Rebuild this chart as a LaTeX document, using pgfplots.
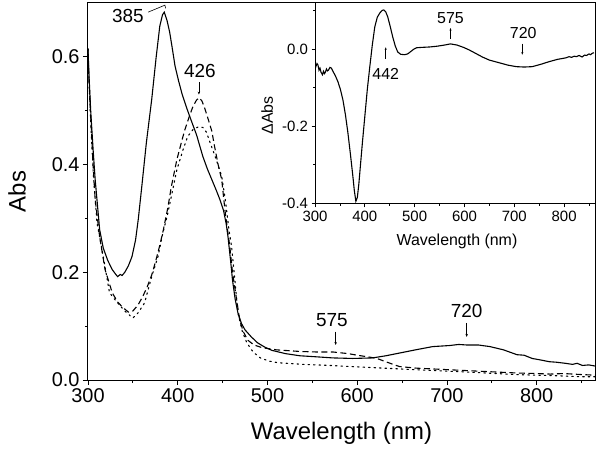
\documentclass[border=0pt]{standalone}
\usepackage{fontspec}
\setmainfont{Liberation Sans}
\usepackage{pgfplots}
\pgfplotsset{compat=1.18}
\usetikzlibrary{arrows.meta}

\begin{document}
\begin{tikzpicture}
\path[use as bounding box] (-88bp,-76bp) rectangle (512bp,380bp);
\begin{axis}[
  at={(0,0)}, anchor=south west,
  scale only axis, width=507bp, height=377bp,
  xmin=300, xmax=865, ymin=0, ymax=0.70,
  xtick={300,400,...,800}, minor xtick={350,450,...,850},
  ytick={0,0.2,0.4,0.6}, minor ytick={0.1,0.3,0.5},
  xtick pos=left, ytick pos=left,
  tick align=outside,
  major tick length=5bp, minor tick length=3bp,
  tick style={black, line width=0.8bp},
  axis line style={line width=1bp},
  /pgf/number format/assume math mode=true,
  yticklabel style={/pgf/number format/.cd,fixed,fixed zerofill,precision=1},
  xticklabel style={/pgf/number format/1000 sep={}},
  ticklabel style={font=\fontsize{20}{24}\selectfont},
  xlabel={Wavelength (nm)}, ylabel={Abs},
  label style={font=\fontsize{24}{28}\selectfont},
  x label style={at={(axis description cs:0.5,-0.1406)}, anchor=center},
  y label style={at={(axis description cs:-0.140,0.5)}, anchor=center},
  every axis plot/.append style={line width=1.1bp, black},
]
% solid
\addplot[solid] coordinates {
(300,0.615)(301,0.57)(303,0.50)(306,0.42)(308,0.372)(313,0.279)(317,0.245)(322,0.222)(327,0.205)(331,0.196)(333,0.192)(336,0.196)(338,0.194)(341,0.200)(345,0.212)(349,0.229)(353,0.26)(356,0.298)(360,0.36)(365,0.44)(371,0.521)(376,0.60)(380,0.657)(383,0.678)(385,0.683)(388,0.668)(391,0.646)(394,0.615)(397,0.583)(401,0.555)(405,0.530)(410,0.505)(415,0.482)(421,0.455)(428,0.415)(433,0.392)(438,0.372)(443,0.352)(447,0.335)(451,0.315)(454,0.29)(456,0.266)(459,0.22)(461,0.186)(464,0.15)(467,0.125)(471,0.105)(475,0.093)(482,0.08)(489,0.069)(497,0.061)(505,0.055)(520,0.049)(536,0.045)(555,0.043)(573,0.041)(595,0.040)(617,0.041)(632,0.045)(647,0.050)(665,0.056)(684,0.062)(703,0.064)(713,0.066)(722,0.065)(735,0.065)(748,0.062)(763,0.056)(778,0.047)(786,0.046)(795,0.040)(805,0.037)(814,0.034)(822,0.033)(832,0.031)(840,0.029)(845,0.031)(851,0.027)(858,0.028)(865,0.026)
};
% dashed
\addplot[dash pattern=on 6bp off 3.5bp] coordinates {
(300,0.615)(301,0.56)(303,0.49)(306,0.39)(308,0.335)(313,0.266)(319,0.205)(327,0.162)(333,0.145)(338,0.136)(345,0.126)(350,0.128)(356,0.140)(361,0.155)(366,0.173)(371,0.195)(375,0.218)(380,0.25)(384,0.279)(389,0.32)(393,0.36)(399,0.409)(405,0.447)(408,0.465)(413,0.49)(417,0.508)(421,0.52)(424,0.524)(427,0.518)(430,0.505)(434,0.484)(438,0.462)(441,0.434)(445,0.40)(449,0.372)(453,0.31)(458,0.248)(461,0.20)(464,0.167)(469,0.112)(473,0.09)(478,0.074)(485,0.065)(494,0.060)(510,0.056)(536,0.053)(555,0.052)(573,0.052)(590,0.049)(600,0.046)(612,0.043)(622,0.040)(635,0.032)(647,0.025)(666,0.022)(703,0.019)(740,0.016)(778,0.013)(800,0.012)(815,0.011)(830,0.012)(851,0.010)(865,0.009)
};
% dotted
\addplot[dash pattern=on 1.5bp off 4bp, line cap=round] coordinates {
(300,0.615)(301,0.56)(303,0.48)(306,0.38)(310,0.292)(317,0.229)(324,0.162)(333,0.143)(341,0.128)(350,0.115)(356,0.125)(363,0.143)(371,0.192)(378,0.229)(383,0.27)(389,0.31)(394,0.35)(399,0.39)(406,0.428)(411,0.452)(417,0.465)(423,0.470)(428,0.469)(432,0.46)(436,0.441)(443,0.409)(449,0.378)(453,0.335)(457,0.28)(460,0.248)(464,0.18)(467,0.125)(472,0.09)(477,0.069)(484,0.052)(492,0.041)(502,0.035)(512,0.032)(540,0.029)(570,0.027)(592,0.025)(630,0.022)(666,0.019)(720,0.015)(778,0.010)(820,0.008)(851,0.006)(865,0.006)
};
% annotations
\draw[line width=0.6bp] (axis cs:367,0.683) -- (axis cs:385.7,0.696) -- (axis cs:386.5,0.690);
\node[font=\fontsize{19}{22}\selectfont] at (axis cs:344.5,0.675) {385};
\node[font=\fontsize{19}{22}\selectfont] at (axis cs:424.7,0.573) {426};
\draw[line width=0.6bp,-{Stealth[length=3bp,width=2.5bp]}] (axis cs:423.6,0.553) -- (axis cs:423.6,0.530);
\node[font=\fontsize{19}{22}\selectfont] at (axis cs:571.7,0.112) {575};
\draw[line width=0.6bp,-{Stealth[length=3bp,width=2.5bp]}] (axis cs:576,0.090) -- (axis cs:576,0.065);
\node[font=\fontsize{19}{22}\selectfont] at (axis cs:722,0.128) {720};
\draw[line width=0.6bp,-{Stealth[length=3bp,width=2.5bp]}] (axis cs:722,0.106) -- (axis cs:722,0.080);
\end{axis}

\begin{axis}[
  at={(227bp,176bp)}, anchor=south west,
  scale only axis, width=280bp, height=201bp,
  axis background/.style={fill=white},
  xmin=300, xmax=862, ymin=-0.402, ymax=0.119,
  xtick={300,400,...,800}, minor xtick={350,450,...,850},
  ytick={-0.4,-0.2,0}, minor ytick={-0.3,-0.1,0.1},
  xtick pos=left, ytick pos=left,
  tick align=outside,
  major tick length=3.5bp, minor tick length=2bp,
  tick style={black, line width=0.7bp},
  axis line style={line width=1bp},
  /pgf/number format/assume math mode=true,
  yticklabel style={/pgf/number format/.cd,fixed,fixed zerofill,precision=1},
  xticklabel style={/pgf/number format/1000 sep={}},
  ticklabel style={font=\fontsize{15}{18}\selectfont},
  xlabel={Wavelength (nm)}, ylabel={ΔAbs},
  label style={font=\fontsize{16}{19}\selectfont},
  x label style={at={(axis description cs:0.507,-0.184)}, anchor=center},
  y label style={at={(axis description cs:-0.171,0.44)}, anchor=center},
]
\addplot[black, line width=1.1bp] coordinates {
(300,-0.035)(302,-0.045)(304,-0.038)(306,-0.042)(308,-0.055)(310,-0.050)(312,-0.060)(315,-0.067)(317,-0.058)(319,-0.064)(321,-0.060)(323,-0.052)(325,-0.057)(327,-0.055)(330,-0.048)(333,-0.050)(336,-0.058)(341,-0.070)(346,-0.085)(351,-0.105)(356,-0.132)(361,-0.170)(366,-0.217)(371,-0.272)(376,-0.330)(379,-0.368)(382,-0.395)(385,-0.385)(388,-0.350)(391,-0.305)(395,-0.245)(400,-0.175)(405,-0.105)(410,-0.046)(415,0.010)(420,0.057)(425,0.082)(430,0.093)(435,0.100)(438,0.101)(442,0.096)(446,0.083)(451,0.058)(456,0.031)(461,0.008)(466,-0.008)(472,-0.014)(480,-0.015)(486,-0.013)(492,-0.007)(498,-0.001)(504,0.003)(515,0.004)(530,0.005)(545,0.007)(560,0.010)(572,0.013)(585,0.010)(598,0.004)(610,-0.003)(623,-0.012)(636,-0.021)(650,-0.029)(670,-0.036)(687,-0.042)(704,-0.046)(720,-0.047)(736,-0.046)(753,-0.040)(770,-0.033)(787,-0.027)(796,-0.025)(804,-0.023)(810,-0.020)(815,-0.022)(820,-0.019)(825,-0.020)(830,-0.017)(836,-0.021)(841,-0.016)(845,-0.017)(850,-0.013)(853,-0.015)(857,-0.011)(860,-0.010)
};
\node[font=\fontsize{16}{19}\selectfont] at (axis cs:442,-0.065) {442};
\draw[line width=0.6bp,-{Stealth[length=2.5bp,width=2bp]}] (axis cs:442,-0.025) -- (axis cs:442,0.004);
\node[font=\fontsize{16}{19}\selectfont] at (axis cs:572,0.080) {575};
\draw[line width=0.6bp,-{Stealth[length=2.5bp,width=2bp]}] (axis cs:572,0.026) -- (axis cs:572,0.054);
\node[font=\fontsize{16}{19}\selectfont] at (axis cs:718,0.041) {720};
\draw[line width=0.6bp,-{Stealth[length=2.5bp,width=2bp]}] (axis cs:716,0.014) -- (axis cs:716,-0.015);
\end{axis}
\end{tikzpicture}
\end{document}
